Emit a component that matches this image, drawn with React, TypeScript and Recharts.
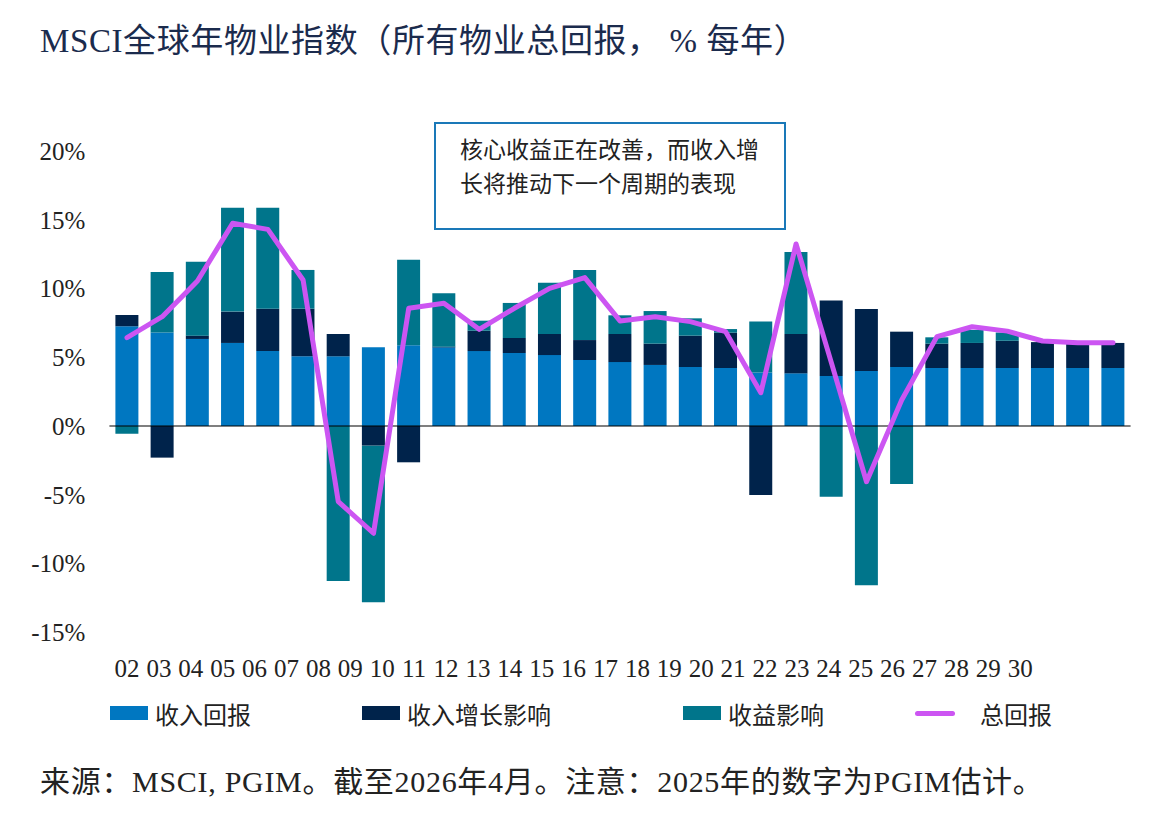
import { BarChart, Bar, Line, XAxis, YAxis, ReferenceArea, ReferenceLine } from 'recharts'

const years = ['02', '03', '04', '05', '06', '07', '08', '09', '10', '11', '12', '13', '14', '15', '16', '17', '18', '19', '20', '21', '22', '23', '24', '25', '26', '27', '28', '29', '30']

// contribution of each component, % per year
const incomeReturn = [7.25, 6.8, 6.33, 6.04, 5.45, 5.07, 5.07, 5.72, 5.87, 5.72, 5.45, 5.31, 5.16, 4.8, 4.65, 4.44, 4.29, 4.22, 3.9, 3.83, 3.64, 4.0, 4.29, 4.22, 4.22, 4.22, 4.22, 4.22, 4.22]
const incomeGrowth = [0.82, -2.3, 0.24, 2.28, 3.08, 3.46, 1.62, -1.43, -2.64, 0.05, 1.48, 1.09, 1.53, 1.45, 2.04, 1.55, 2.28, 2.57, -5.02, 2.86, 5.48, 4.51, 2.57, 1.77, 1.82, 1.98, 1.88, 1.82, 1.82]
const yieldImpact = [-0.56, 4.4, 5.38, 7.56, 7.35, 2.82, -11.27, -11.39, 6.23, 3.88, 0.73, 2.55, 3.73, 5.1, 1.36, 2.37, 1.26, 0.26, 3.7, 5.96, -5.14, -11.59, -4.22, 0.46, 0.95, 0.6, 0, 0, 0]
const totalReturn = [6.42, 7.95, 10.55, 14.74, 14.3, 10.62, -5.5, -7.8, 8.56, 8.92, 7.03, 8.56, 10.01, 10.79, 7.64, 7.95, 7.59, 6.86, 2.42, 13.24, 4.63, -4.05, 1.89, 6.5, 7.22, 6.9, 6.18, 6.06, 6.06]

const yTicks = [-15, -10, -5, 0, 5, 10, 15, 20]
const forecastStart = '26'
const forecastEnd = '30'

const C_INCOME = '#0077c1'
const C_GROWTH = '#00234b'
const C_YIELD = '#00758b'
const C_TOTAL = '#cc55f2'

const FONT = "'Liberation Serif', 'Noto Sans CJK SC', serif"
const CJK = "'Noto Sans CJK SC', sans-serif"

const rows = years.map((y, i) => ({
  year: y,
  income: incomeReturn[i],
  growth: incomeGrowth[i],
  yield: yieldImpact[i],
  total: totalReturn[i]
}))

const legendItems = [
  { label: '收入回报', color: C_INCOME, left: 110, line: false },
  { label: '收入增长影响', color: C_GROWTH, left: 362, line: false },
  { label: '收益影响', color: C_YIELD, left: 683, line: false },
  { label: '总回报', color: C_TOTAL, left: 915, line: true }
]

export default function App() {
  return (
    <div style={{ position: 'absolute', left: 0, top: 0, width: 1160, height: 828, background: '#fff', fontFamily: FONT, overflow: 'hidden' }}>
      <div style={{ position: 'absolute', left: 40, top: 14, fontSize: 33, letterSpacing: 0.6, color: '#1b2b4d', whiteSpace: 'nowrap' }}>
        MSCI全球年物业指数（所有物业总回报，&nbsp;% 每年）
      </div>

      <div style={{ position: 'absolute', left: 0, top: 0 }}>
        <BarChart
          width={1160}
          height={690}
          data={rows}
          stackOffset="sign"
          margin={{ top: 148.25, right: 29.4, left: 49.4, bottom: 0 }}
        >
          <XAxis xAxisId="main" dataKey="year" hide />
          <XAxis
            xAxisId="labels"
            dataKey="year"
            interval={0}
            axisLine={false}
            tickLine={false}
            tickSize={0}
            tickMargin={13}
            height={44}
            padding={{ left: 1.65, right: 94.45 }}
            tick={{ fill: '#222', fontSize: 25, fontFamily: FONT }}
          />
          <YAxis
            domain={[-16, 20.2]}
            ticks={yTicks}
            width={60}
            axisLine={false}
            tickLine={false}
            tickSize={0}
            tickMargin={24}
            tickFormatter={(v) => `${v}%`}
            tick={{ fill: '#222', fontSize: 25, fontFamily: FONT }}
          />
          <ReferenceArea
            xAxisId="main"
            x1={forecastStart}
            x2={forecastEnd}
            y1={-15.85}
            y2={20.2}
            fill="#eaf3fa"
            fillOpacity={1}
            stroke="none"
            label={{ value: '预测', position: 'insideTop', offset: 25, fill: '#222', fontSize: 23, fontFamily: CJK }}
          />
          <Bar xAxisId="main" dataKey="income" stackId="a" fill={C_INCOME} barSize={23} isAnimationActive={false} />
          <Bar xAxisId="main" dataKey="growth" stackId="a" fill={C_GROWTH} barSize={23} isAnimationActive={false} />
          <Bar xAxisId="main" dataKey="yield" stackId="a" fill={C_YIELD} barSize={23} isAnimationActive={false} />
          <ReferenceLine xAxisId="main" y={0} stroke="#000" strokeWidth={1.2} />
          <Line
            xAxisId="main"
            dataKey="total"
            type="linear"
            stroke={C_TOTAL}
            strokeWidth={5}
            strokeLinejoin="round"
            strokeLinecap="round"
            dot={false}
            activeDot={false}
            isAnimationActive={false}
          />
        </BarChart>
      </div>

      {/* callout box */}
      <div
        style={{
          position: 'absolute',
          left: 434,
          top: 122,
          width: 352,
          height: 108,
          border: '2px solid #1a78b8',
          fontFamily: CJK,
          fontSize: 23,
          lineHeight: '34px',
          color: '#222',
          padding: '7px 0 0 24px',
          boxSizing: 'border-box'
        }}
      >
        核心收益正在改善，而收入增
        <br />
        长将推动下一个周期的表现
      </div>

      {legendItems.map((it) => (
        <div key={it.label} style={{ position: 'absolute', left: it.left, top: 698, height: 30, display: 'flex', alignItems: 'center', whiteSpace: 'nowrap' }}>
          {it.line ? (
            <div style={{ width: 40, height: 5, borderRadius: 3, background: it.color, marginRight: 25 }} />
          ) : (
            <div style={{ width: 38, height: 14, background: it.color, marginRight: 7 }} />
          )}
          <span style={{ fontFamily: CJK, fontSize: 24, color: '#222' }}>{it.label}</span>
        </div>
      ))}

      <div style={{ position: 'absolute', left: 40, top: 757, fontSize: 30, letterSpacing: 0.7, color: '#222', whiteSpace: 'nowrap' }}>
        来源：MSCI, PGIM。截至2026年4月。注意：2025年的数字为PGIM估计。
      </div>
    </div>
  )
}
